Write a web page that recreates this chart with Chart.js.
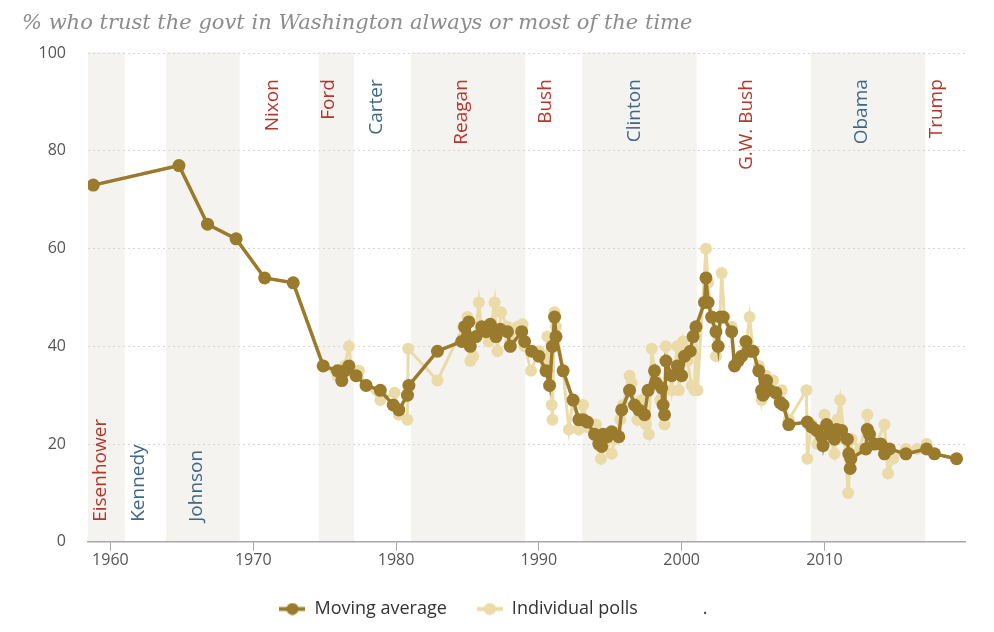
<!DOCTYPE html>
<html>
<head>
<meta charset="utf-8">
<script src="https://cdn.jsdelivr.net/npm/chart.js@4.4.1/dist/chart.umd.min.js"></script>
<style>
  html, body { margin: 0; padding: 0; background: #fff; }
</style>
</head>
<body>
<canvas id="trustChart" width="994" height="632"></canvas>
<script>
// moving average (year, percent)
const avgYears = [1958.8, 1964.8, 1966.8, 1968.8, 1970.8, 1972.8, 1974.9, 1975.9, 1976.2, 1976.4, 1976.7, 1977.2, 1977.9, 1978.9, 1979.8, 1980.2, 1980.8, 1980.9, 1982.9,
  1984.6, 1984.8, 1985.0, 1985.1, 1985.2, 1985.6, 1986.0, 1986.3, 1986.6, 1987.0, 1987.3, 1987.8, 1988.0, 1988.8, 1989.0, 1989.5, 1990.0, 1990.5, 1990.75, 1990.95, 1991.1, 1991.2, 1991.7,
  1992.4, 1992.8, 1993.1, 1993.4, 1993.9, 1994.2, 1994.4, 1994.5, 1994.8, 1995.1, 1995.6, 1995.8, 1996.35, 1996.7, 1997.0, 1997.4, 1997.65, 1998.1, 1998.2, 1998.6, 1998.7, 1998.8, 1998.9,
  1999.3, 1999.7, 2000.0, 2000.2, 2000.6, 2000.8, 2001.0, 2001.6, 2001.7, 2001.85, 2002.1, 2002.4, 2002.55, 2002.7, 2002.9, 2003.5, 2003.7, 2003.95, 2004.2, 2004.5, 2004.8, 2005.0,
  2005.4, 2005.6, 2005.7, 2005.95, 2006.15, 2006.6, 2006.9, 2007.1, 2007.5, 2008.8, 2009.1, 2009.45, 2009.8, 2009.9, 2010.15, 2010.4, 2010.7, 2010.85, 2011.2, 2011.6, 2011.7, 2011.8, 2011.85,
  2012.9, 2013.0, 2013.15, 2013.5, 2013.95, 2014.2, 2014.55, 2015.7, 2017.15, 2017.7, 2019.25];
const avgValues = [73, 77, 65, 62, 54, 53, 36, 35, 33, 35, 36, 34, 32, 31, 28, 27, 30, 32, 39,
  41, 44, 42, 45, 40, 42, 44, 43, 44.5, 42, 43.5, 43, 40, 43, 41, 39, 38, 35, 32, 40, 46, 42, 35,
  29, 25, 25, 24.5, 22, 20, 19.5, 22, 21.5, 22.5, 21.5, 27, 31, 28, 27, 26, 31, 35, 32.5, 31.5, 28, 26, 37,
  34, 36, 34, 38, 39, 42, 44, 49, 54, 49, 46, 43, 40, 46, 46, 43, 36, 37, 38, 41, 39, 39,
  35, 31, 30, 33, 31, 30.5, 28.5, 28, 24, 24.5, 23.5, 22.8, 21.5, 19.7, 24, 22, 21, 23, 22.8, 21, 18, 15, 17,
  19, 23, 22, 20, 20, 18, 19, 18, 19, 18, 17];

// individual polls (year, percent)
const pollYears = [1958.8, 1964.8, 1966.8, 1968.8, 1970.8, 1972.8, 1974.9, 1975.9, 1976.1, 1976.4, 1976.7, 1976.9, 1977.4, 1977.9, 1978.9, 1979.9, 1980.2, 1980.8, 1980.85, 1982.9,
  1984.7, 1985.0, 1985.2, 1985.4, 1985.8, 1986.0, 1986.5, 1986.9, 1987.1, 1987.35, 1987.8, 1988.0, 1988.5, 1988.86, 1989.0, 1989.45, 1990.0, 1990.5, 1990.6, 1990.9, 1990.95, 1991.1, 1991.2, 1991.7,
  1992.1, 1992.4, 1992.8, 1993.1, 1993.4, 1994.0, 1994.35, 1994.6, 1995.1, 1995.3, 1995.7, 1995.9, 1996.35, 1996.5, 1996.9, 1997.2, 1997.5, 1997.7, 1997.9, 1998.2, 1998.5, 1998.8, 1998.9,
  1999.3, 1999.7, 1999.8, 2000.1, 2000.4, 2000.7, 2000.9, 2001.0, 2001.1, 2001.7, 2001.85, 2002.1, 2002.4, 2002.6, 2002.8, 2003.0, 2003.5, 2003.7, 2004.0, 2004.5, 2004.76, 2005.0,
  2005.4, 2005.6, 2005.9, 2006.4, 2006.7, 2007.0, 2007.5, 2008.74, 2008.8, 2009.1, 2009.5, 2009.8, 2010.0, 2010.3, 2010.7, 2010.9, 2011.1, 2011.4, 2011.66, 2011.9,
  2012.5, 2013.0, 2013.2, 2013.6, 2014.2, 2014.45, 2014.8, 2015.7, 2016.5, 2017.15, 2017.7, 2019.25];
const pollValues = [73, 77, 65, 62, 54, 53, 36, 34, 33.5, 36, 40, 35, 35, 32, 29, 30.5, 26, 25, 39.5, 33,
  44, 46, 37, 38, 49, 43, 41, 49, 39, 47, 44, 41, 44, 44.5, 40, 35, 39, 36, 42, 28, 25, 47, 44, 35,
  23, 29, 23, 28, 23.5, 24, 17, 20, 18, 21, 25, 28, 34, 32.5, 25, 29, 24, 22, 39.5, 33, 29, 24, 40,
  31, 40, 31, 41, 37, 32, 31, 43, 31, 60, 53, 46, 38, 40, 55, 46, 44, 36, 37, 40, 46, 39,
  36, 29, 34, 33, 30, 31, 25, 31, 17, 24, 20, 22, 26, 23, 18, 25, 29, 21, 10, 21,
  19, 26, 22, 20, 24, 14, 17, 19, 19, 20, 18, 17];

// presidencies
const presNames = ['Eisenhower', 'Kennedy', 'Johnson', 'Nixon', 'Ford', 'Carter', 'Reagan', 'Bush', 'Clinton', 'G.W. Bush', 'Obama', 'Trump'];
const presParty = ['R', 'D', 'D', 'R', 'R', 'D', 'R', 'R', 'D', 'R', 'D', 'R'];
const presStart = [1953, 1961, 1963.9, 1969.05, 1974.6, 1977.05, 1981.05, 1989.05, 1993.05, 2001.05, 2009.05, 2017.05];
const presLabelYear = [1959.3, 1962.0, 1966.0, 1971.35, 1975.3, 1978.65, 1984.6, 1990.5, 1996.7, 2004.55, 2012.6, 2017.85];

const yTicks = [0, 20, 40, 60, 80, 100];

const avgColor = '#9a7a2c';
const pollColor = '#eadba9';
const bandColor = '#f4f3ef';
const partyColor = { R: '#b5372c', D: '#3e6888' };

function toPoints(xs, ys) {
  return xs.map((x, i) => ({ x: x, y: ys[i] }));
}

// little line + dot used as the legend marker
function legendMarker(color) {
  const c = document.createElement('canvas');
  c.width = 26;
  c.height = 13;
  const g = c.getContext('2d');
  g.strokeStyle = color;
  g.lineWidth = 4;
  g.beginPath();
  g.moveTo(0, 6.5);
  g.lineTo(26, 6.5);
  g.stroke();
  g.fillStyle = color;
  g.beginPath();
  g.arc(13, 6.5, 6, 0, Math.PI * 2);
  g.fill();
  return c;
}
const blankMarker = document.createElement('canvas');
blankMarker.width = 26;
blankMarker.height = 13;

const bandsPlugin = {
  id: 'bands',
  beforeDraw(chart) {
    const { ctx, chartArea, scales } = chart;
    const x = scales.x;
    ctx.save();
    ctx.fillStyle = bandColor;
    for (let i = 0; i < presStart.length; i += 2) {
      const end = i + 1 < presStart.length ? presStart[i + 1] : x.max;
      const left = Math.max(x.getPixelForValue(presStart[i]), chartArea.left);
      const right = Math.min(x.getPixelForValue(end), chartArea.right);
      if (right > left) ctx.fillRect(left, chartArea.top - 1, right - left, chartArea.bottom - chartArea.top + 1);
    }
    ctx.restore();
  },
  beforeDatasetsDraw(chart) {
    const { ctx, chartArea, scales } = chart;
    ctx.save();
    ctx.font = '19px "Open Sans", sans-serif';
    ctx.textBaseline = 'middle';
    presNames.forEach((name, i) => {
      const px = scales.x.getPixelForValue(presLabelYear[i]);
      ctx.save();
      ctx.fillStyle = partyColor[presParty[i]];
      if (i < 3) {
        ctx.translate(px, chartArea.bottom - 20);
        ctx.rotate(-Math.PI / 2);
        ctx.textAlign = 'left';
      } else {
        ctx.translate(px, chartArea.top + 26);
        ctx.rotate(-Math.PI / 2);
        ctx.textAlign = 'right';
      }
      ctx.fillText(name, 0, 0);
      ctx.restore();
    });
    ctx.restore();
  }
};

const ctx = document.getElementById('trustChart').getContext('2d');

new Chart(ctx, {
  type: 'line',
  data: {
    datasets: [{
      label: 'Moving average',
      data: toPoints(avgYears, avgValues),
      borderColor: avgColor,
      backgroundColor: avgColor,
      borderWidth: 3.5,
      pointRadius: 6.5,
      pointBorderWidth: 0,
      tension: 0
    },
    {
      label: 'Individual polls',
      data: toPoints(pollYears, pollValues),
      borderColor: pollColor,
      backgroundColor: pollColor,
      borderWidth: 3,
      pointRadius: 6,
      pointBorderWidth: 0,
      tension: 0
    }]
  },
  options: {
    responsive: false,
    animation: false,
    layout: {
      padding: { left: 22, right: 29, top: 0, bottom: 4 }
    },
    plugins: {
      title: {
        display: true,
        text: '% who trust the govt in Washington always or most of the time',
        align: 'start',
        color: '#8c8c8c',
        font: { family: '"DejaVu Serif", serif', style: 'italic', size: 21, weight: 'normal' },
        padding: { top: 11, bottom: 17 }
      },
      legend: {
        position: 'bottom',
        labels: {
          usePointStyle: true,
          pointStyleWidth: 26,
          padding: 30,
          color: '#333',
          font: { family: '"Open Sans", sans-serif', size: 18 },
          generateLabels(chart) {
            const items = Chart.defaults.plugins.legend.labels.generateLabels(chart);
            items.forEach(item => {
              item.pointStyle = legendMarker(chart.data.datasets[item.datasetIndex].borderColor);
            });
            items.push({ text: '.', pointStyle: blankMarker, fillStyle: 'rgba(0,0,0,0)', strokeStyle: 'rgba(0,0,0,0)', lineWidth: 0, hidden: false, fontColor: '#333' });
            return items;
          }
        },
        onClick() {}
      },
      tooltip: { enabled: false }
    },
    scales: {
      x: {
        type: 'linear',
        min: 1958.43,
        max: 2019.84,
        border: { color: '#a8a8a8', width: 1.5 },
        grid: { drawOnChartArea: false, drawTicks: true, tickLength: 9, color: '#a8a8a8' },
        ticks: {
          stepSize: 10,
          includeBounds: false,
          padding: 0,
          color: '#555',
          font: { family: '"Open Sans", sans-serif', size: 16 },
          callback: v => String(v)
        }
      },
      y: {
        min: 0,
        max: 100,
        border: { display: false, dash: [2, 3] },
        grid: { color: '#d6d6d6', drawTicks: false },
        afterBuildTicks(scale) {
          scale.ticks = yTicks.map(v => ({ value: v }));
        },
        afterFit(scale) {
          scale.width = 66;
        },
        ticks: {
          padding: 22,
          color: '#555',
          font: { family: '"Open Sans", sans-serif', size: 16 }
        }
      }
    }
  },
  plugins: [bandsPlugin]
});
</script>
</body>
</html>
